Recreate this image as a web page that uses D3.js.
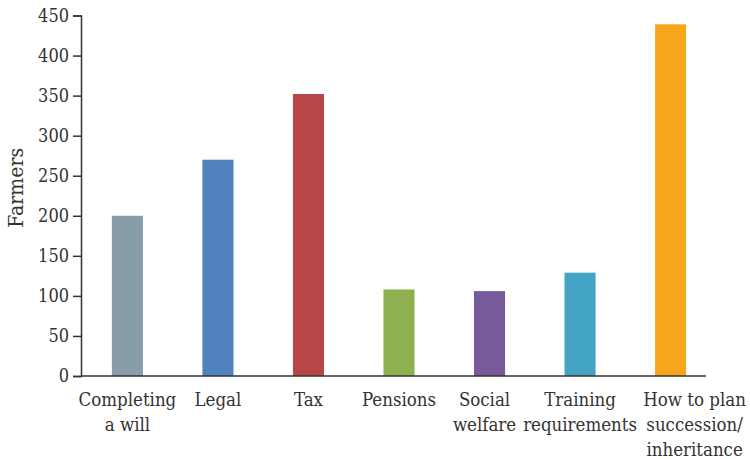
<!DOCTYPE html>
<html>

<head>
    <meta charset="utf-8">
    <title></title>
    <style>
        body { margin: 0; background: #fff; }
        text { font-family: "DejaVu Serif Condensed", "DejaVu Serif", serif; font-stretch: condensed; fill: #333; }
    </style>
</head>

<body>
    <script src="https://cdn.jsdelivr.net/npm/d3@7/dist/d3.min.js"></script>
    <script>
    // 数据
    let categories = ["Completing a will", "Legal", "Tax", "Pensions", "Social welfare", "Training requirements", "How to plan succession/ inheritance"];
    let labelLines = [["Completing", "a will"], ["Legal"], ["Tax"], ["Pensions"], ["Social", "welfare"], ["Training", "requirements"], ["How to plan", "succession/", "inheritance"]];
    let values = [200, 270, 352, 108, 106, 129, 439];
    let colors = ["#879da9", "#4f81bd", "#b94646", "#8fb04e", "#765a9a", "#43a4c4", "#f8a51e"];
    let yTicks = [0, 50, 100, 150, 200, 250, 300, 350, 400, 450];

    let width = 750,
        height = 459;

    let svg = d3.select('body').append('svg').attr('width', width).attr('height', height);

    let padding = { left: 81, right: 44, top: 15.5, bottom: 83 };

    // x轴比例尺
    let xScale = d3.scaleBand()
        .domain(categories)
        .range([82, 716])
        .paddingInner(0.657)
        .paddingOuter(0.33);

    // y轴比例尺
    let yScale = d3.scaleLinear()
        .domain([0, 450])
        .range([height - padding.bottom, padding.top]);

    // 矩形
    svg.selectAll(".bar")
        .data(values)
        .enter()
        .append("rect")
        .attr("class", "bar")
        .attr("x", (d, i) => xScale(categories[i]))
        .attr("y", d => yScale(d))
        .attr("width", xScale.bandwidth())
        .attr("height", d => yScale(0) - yScale(d))
        .attr("fill", (d, i) => colors[i]);

    // y轴
    let yAxis = d3.axisLeft(yScale).tickValues(yTicks).tickSize(8).tickPadding(4);
    let gy = svg.append("g")
        .attr("transform", "translate(" + padding.left + ",0)")
        .call(yAxis);
    gy.select(".domain").attr("stroke", "#333").attr("stroke-width", 1.5);
    gy.selectAll(".tick line").attr("stroke", "#333").attr("stroke-width", 1.5);
    gy.selectAll(".tick text").style("font-size", "18px").attr("fill", "#333");

    // x轴线
    svg.append("line")
        .attr("x1", padding.left)
        .attr("x2", 706)
        .attr("y1", yScale(0))
        .attr("y2", yScale(0))
        .attr("stroke", "#333")
        .attr("stroke-width", 1.5);

    // x轴文字 (最后一个标签向右偏移, Social welfare 稍向左)
    let labelX = function(d, i) {
        let x = xScale(d) + xScale.bandwidth() / 2;
        if (i === categories.length - 1) x += 24;
        if (i === 4) x -= 5;
        return x;
    };
    let xl = svg.selectAll(".xlabel")
        .data(categories)
        .enter()
        .append("text")
        .attr("class", "xlabel")
        .attr("text-anchor", "middle")
        .attr("y", 406)
        .style("font-size", "18.5px");
    xl.each(function(d, i) {
        d3.select(this).selectAll("tspan")
            .data(labelLines[i])
            .enter()
            .append("tspan")
            .attr("x", labelX(d, i))
            .attr("dy", (t, j) => j === 0 ? 0 : 25)
            .text(t => t);
    });

    // y轴标题
    svg.append("text")
        .attr("transform", "translate(23," + yScale(235) + ") rotate(-90)")
        .attr("text-anchor", "middle")
        .style("font-size", "21px")
        .text("Farmers");
    </script>
</body>

</html>
